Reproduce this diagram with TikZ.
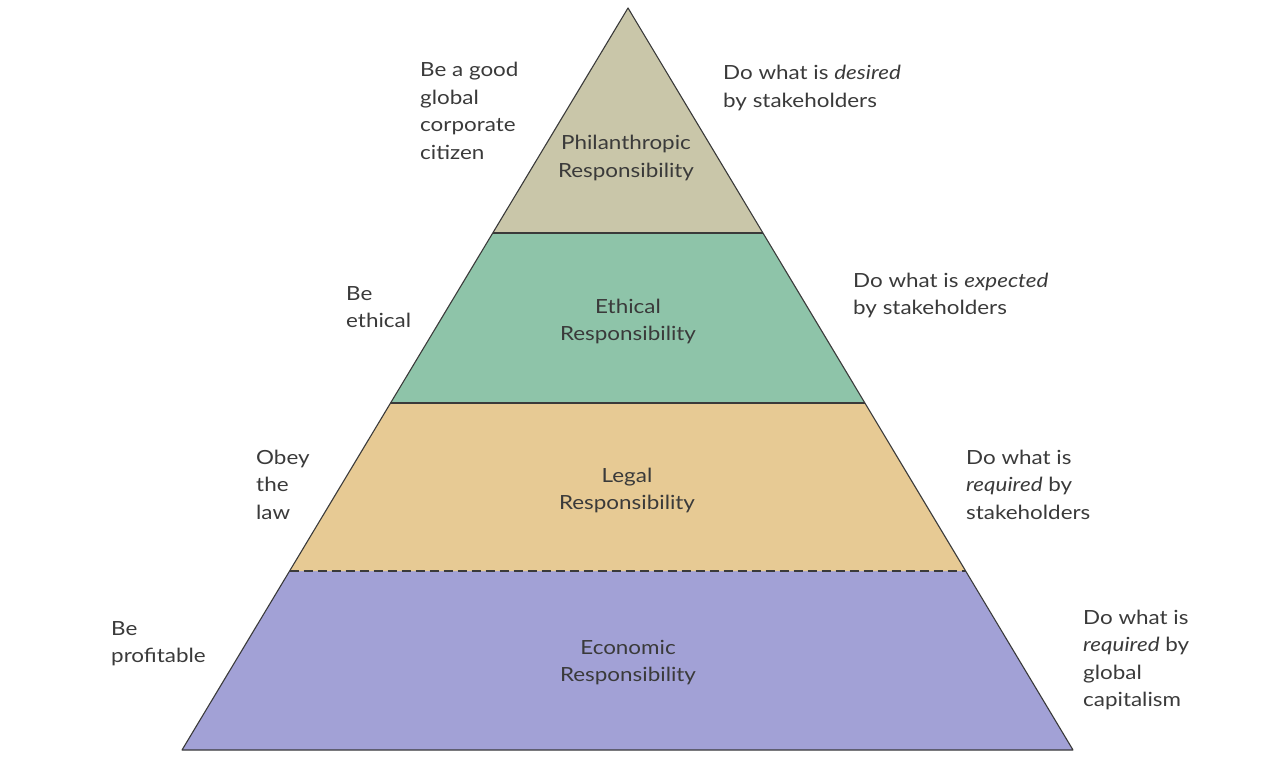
\documentclass[tikz,border=0pt]{standalone}
\usepackage{fontspec}
\setmainfont{Lato}[FakeStretch=1.15]
\definecolor{philc}{HTML}{C9C6A9}
\definecolor{ethc}{HTML}{8EC4A9}
\definecolor{legc}{HTML}{E7CA94}
\definecolor{ecoc}{HTML}{A2A1D6}
\definecolor{txt}{HTML}{3A3A3A}
\definecolor{edge}{HTML}{3A3A3A}
\begin{document}
\begin{tikzpicture}[x=1pt,y=-1pt,
  lbl/.style={font=\fontsize{19.5}{27.5}\selectfont, text=txt, inner sep=0pt, anchor=base west, align=left},
  band/.style={font=\fontsize{19.5}{27.5}\selectfont, text=txt, inner sep=0pt, anchor=base, align=center},
  layer/.style={draw=edge, line width=1.1pt, line join=round}]
\useasboundingbox (0,0) rectangle (1266,762);
% key points
\coordinate (A) at (628,8);
\coordinate (L1) at (492.8,233); \coordinate (R1) at (763,233);
\coordinate (L2) at (390.6,403); \coordinate (R2) at (864.9,403);
\coordinate (L3) at (289.6,571); \coordinate (R3) at (965.6,571);
\coordinate (BL) at (182,750); \coordinate (BR) at (1073,750);
% layers
\fill[ecoc] (L3) -- (R3) -- (BR) -- (BL) -- cycle;
\fill[legc] (L2) -- (R2) -- (R3) -- (L3) -- cycle;
\fill[ethc] (L1) -- (R1) -- (R2) -- (L2) -- cycle;
\fill[philc] (A) -- (R1) -- (L1) -- cycle;
\draw[layer] (A) -- (BR) -- (BL) -- cycle;
\draw[layer] (L1) -- (R1);
\draw[layer] (L2) -- (R2);
\draw[draw=edge, line width=1.3pt, dash pattern=on 9pt off 5pt] (L3) -- (R3);
% band labels (anchor = baseline of last line)
\node[band] (phil) at (626,177.5) {Philanthropic\\Responsibility};
\node[band] (eth) at (628,340.5) {Ethical\\Responsibility};
\node[band] (leg) at (627,509.5) {Legal\\Responsibility};
\node[band] (eco) at (628,681.5) {Economic\\Responsibility};
% left labels
\node[lbl] (l1) at (420,159.5) {Be a good\\global\\corporate\\citizen};
\node[lbl] (l2) at (346,327.5) {Be\\ethical};
\node[lbl] (l3) at (256,519) {Obey\\the\\law};
\node[lbl] (l4) at (111,662.5) {Be\\profitable};
% right labels
\node[lbl] (r1) at (723,107.5) {Do what is \textit{desired}\\by stakeholders};
\node[lbl] (r2) at (853,314.5) {Do what is \textit{expected}\\by stakeholders};
\node[lbl] (r3) at (966,519) {Do what is\\\textit{required} by\\stakeholders};
\node[lbl] (r4) at (1083,706.5) {Do what is\\\textit{required} by\\global\\capitalism};
\end{tikzpicture}
\end{document}
